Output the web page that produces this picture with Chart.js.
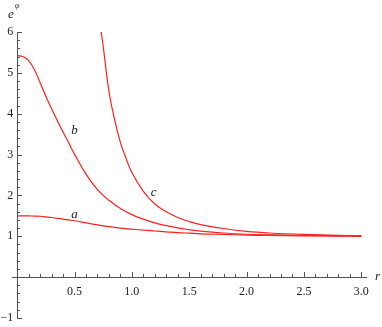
<!DOCTYPE html>
<html>
<head>
<meta charset="utf-8">
<script src="https://cdn.jsdelivr.net/npm/chart.js@4.4.0/dist/chart.umd.min.js"></script>
<style>
  html, body { margin: 0; padding: 0; background: #fff; }
  #wrap { width: 382px; height: 327px; }
</style>
</head>
<body>
<div id="wrap"><canvas id="chart"></canvas></div>
<script>
// r values shared by curves a and b
const rAB = [0, 0.05, 0.1, 0.15, 0.2, 0.25, 0.3, 0.35, 0.4, 0.45, 0.5, 0.6, 0.7, 0.8, 0.9, 1.0,
  1.1, 1.2, 1.3, 1.4, 1.5, 1.6, 1.8, 2.0, 2.2, 2.5, 2.8, 3.0];
const curveA = [1.5, 1.5, 1.5, 1.495, 1.49, 1.475, 1.46, 1.44, 1.42, 1.40, 1.38, 1.33, 1.28, 1.235, 1.20, 1.175,
  1.15, 1.13, 1.11, 1.09, 1.075, 1.06, 1.045, 1.03, 1.02, 1.01, 1.005, 1.0];
const curveB = [5.42, 5.40, 5.30, 5.08, 4.76, 4.43, 4.12, 3.83, 3.55, 3.28, 3.01, 2.52, 2.14, 1.88, 1.68, 1.53,
  1.42, 1.33, 1.26, 1.205, 1.16, 1.125, 1.08, 1.05, 1.035, 1.02, 1.01, 1.005];
// curve c blows up near r = 0.7
const rC = [0.73, 0.75, 0.8, 0.85, 0.9, 0.95, 1.0, 1.1, 1.2, 1.3, 1.4, 1.5, 1.6, 1.8, 2.0, 2.2, 2.5, 2.8, 3.0];
const curveC = [6.05, 5.65, 4.55, 3.85, 3.30, 2.90, 2.56, 2.10, 1.79, 1.60, 1.46, 1.36, 1.285, 1.19, 1.12, 1.08, 1.045, 1.025, 1.015];

const xTickLabels = ["0.5", "1.0", "1.5", "2.0", "2.5", "3.0"];
const yTickLabels = ["-1", "1", "2", "3", "4", "5", "6"];

// curve name labels, placed in data coordinates
const curveNames = ["a", "b", "c"];
const nameAt = [[0.5, 1.52], [0.5, 3.58], [1.19, 2.08]];

function toPoints(xs, ys) {
  return xs.map((x, i) => ({ x: x, y: ys[i] }));
}

const RED = "#ff2020";
const SERIF = "'Liberation Serif', 'DejaVu Serif', serif";

const axesPlugin = {
  id: "mathAxes",
  afterDraw(chart) {
    const ctx = chart.ctx;
    const xs = chart.scales.x;
    const ys = chart.scales.y;
    const x0 = xs.getPixelForValue(0);
    const y0 = ys.getPixelForValue(0);
    ctx.save();
    ctx.strokeStyle = "#555";
    ctx.lineWidth = 1;

    // x axis line and ticks (drawn upward)
    ctx.beginPath();
    ctx.moveTo(xs.left, Math.round(y0) + 0.5);
    ctx.lineTo(xs.right, Math.round(y0) + 0.5);
    for (let i = 1; i <= 30; i++) {
      const px = Math.round(xs.getPixelForValue(i / 10)) + 0.5;
      const len = i % 5 === 0 ? 5 : 3;
      ctx.moveTo(px, Math.round(y0));
      ctx.lineTo(px, Math.round(y0) - len);
    }
    // y axis line and ticks (drawn rightward)
    ctx.moveTo(Math.round(x0) + 0.5, ys.top);
    ctx.lineTo(Math.round(x0) + 0.5, ys.bottom);
    for (let i = -5; i <= 30; i++) {
      if (i === 0) continue;
      const py = Math.round(ys.getPixelForValue(i / 5)) + 0.5;
      const len = i % 5 === 0 ? 5 : 3;
      ctx.moveTo(Math.round(x0), py);
      ctx.lineTo(Math.round(x0) + len, py);
    }
    ctx.stroke();

    ctx.fillStyle = "#222";
    ctx.font = "12px " + SERIF;
    ctx.textAlign = "center";
    ctx.textBaseline = "top";
    xTickLabels.forEach((t) => {
      ctx.fillText(t, xs.getPixelForValue(parseFloat(t)), y0 + 9);
    });
    ctx.textAlign = "right";
    ctx.textBaseline = "middle";
    yTickLabels.forEach((t) => {
      const lbl = t.replace("-", "\u2212");
      ctx.fillText(lbl, x0 - 4, ys.getPixelForValue(parseFloat(t)));
    });

    // axis titles
    ctx.textAlign = "left";
    ctx.textBaseline = "alphabetic";
    ctx.font = "italic 13px " + SERIF;
    ctx.fillText("e", 8, 18);
    ctx.font = "italic 8px " + SERIF;
    ctx.fillText("\u03c6", 15, 8);
    ctx.font = "italic 13px " + SERIF;
    ctx.fillText("r", 375, y0 + 3);

    // curve names
    ctx.textAlign = "center";
    ctx.textBaseline = "middle";
    curveNames.forEach((n, i) => {
      ctx.fillText(n, xs.getPixelForValue(nameAt[i][0]), ys.getPixelForValue(nameAt[i][1]));
    });
    ctx.restore();
  },
};

const lineStyle = {
  borderColor: RED,
  borderWidth: 1.2,
  pointRadius: 0,
  fill: false,
  tension: 0.4,
};

new Chart(document.getElementById("chart"), {
  type: "line",
  data: {
    datasets: [
      Object.assign({ label: "a", data: toPoints(rAB, curveA) }, lineStyle),
      Object.assign({ label: "b", data: toPoints(rAB, curveB) }, lineStyle),
      Object.assign({ label: "c", data: toPoints(rC, curveC) }, lineStyle),
    ],
  },
  options: {
    responsive: true,
    maintainAspectRatio: false,
    animation: false,
    layout: {
      padding: { left: 12, right: 15, top: 32, bottom: 9 },
    },
    plugins: {
      legend: { display: false },
      tooltip: { enabled: false },
    },
    scales: {
      x: { type: "linear", min: -0.045, max: 3.05, display: false },
      y: { type: "linear", min: -1, max: 6, display: false },
    },
  },
  plugins: [axesPlugin],
});
</script>
</body>
</html>
